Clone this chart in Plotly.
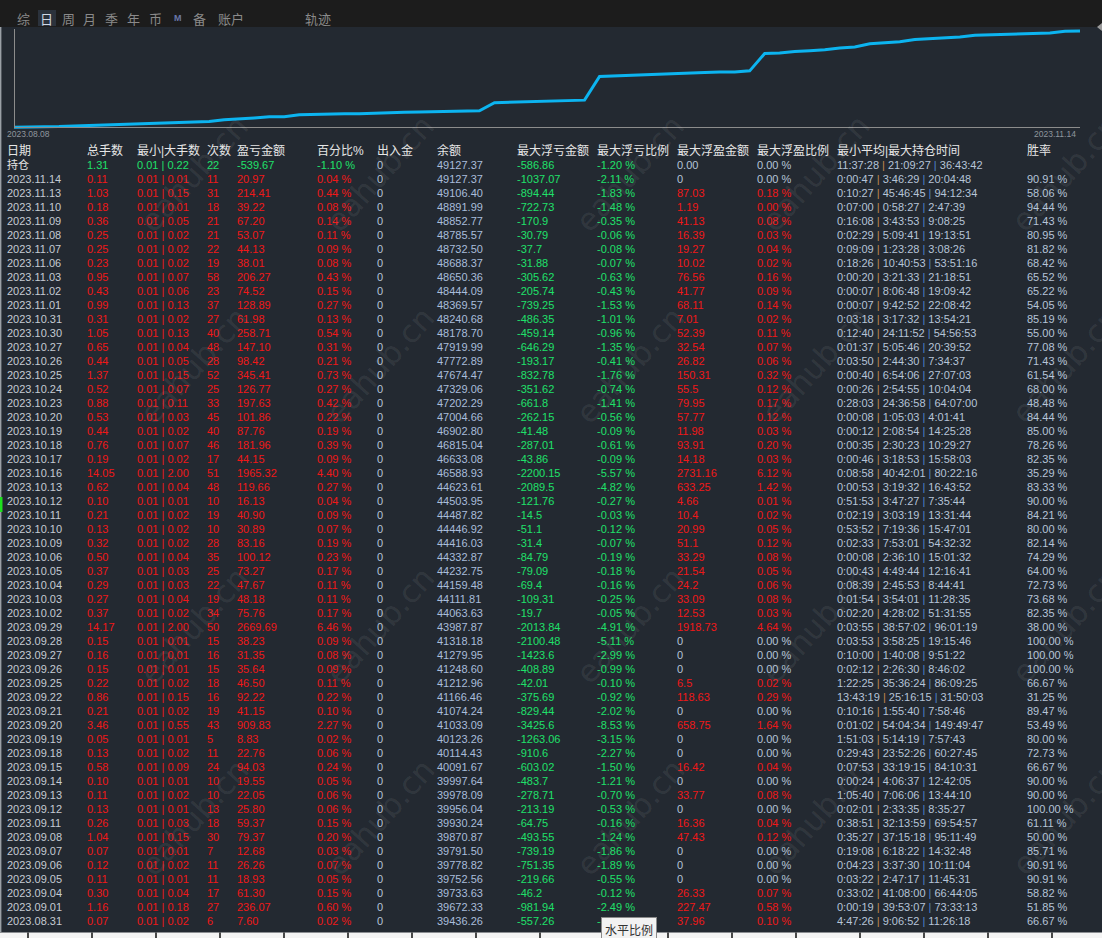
import plotly.graph_objects as go

W, H = 1102, 938

# ---- 日统计表 (2023.11.14 -> 2023.08.31) ----
dates = ["2023.11.14", "2023.11.13", "2023.11.10", "2023.11.09", "2023.11.08", "2023.11.07", "2023.11.06",
         "2023.11.03", "2023.11.02", "2023.11.01", "2023.10.31", "2023.10.30", "2023.10.27", "2023.10.26",
         "2023.10.25", "2023.10.24", "2023.10.23", "2023.10.20", "2023.10.19", "2023.10.18", "2023.10.17",
         "2023.10.16", "2023.10.13", "2023.10.12", "2023.10.11", "2023.10.10", "2023.10.09", "2023.10.06",
         "2023.10.05", "2023.10.04", "2023.10.03", "2023.10.02", "2023.09.29", "2023.09.28", "2023.09.27",
         "2023.09.26", "2023.09.25", "2023.09.22", "2023.09.21", "2023.09.20", "2023.09.19", "2023.09.18",
         "2023.09.15", "2023.09.14", "2023.09.13", "2023.09.12", "2023.09.11", "2023.09.08", "2023.09.07",
         "2023.09.06", "2023.09.05", "2023.09.04", "2023.09.01", "2023.08.31"]
total_lots = [0.11, 1.03, 0.18, 0.36, 0.25, 0.25, 0.23, 0.95, 0.43, 0.99, 0.31, 1.05, 0.65, 0.44, 1.37, 0.52,
              0.88, 0.53, 0.44, 0.76, 0.19, 14.05, 0.62, 0.10, 0.21, 0.13, 0.32, 0.50, 0.37, 0.29, 0.27, 0.37,
              14.17, 0.15, 0.16, 0.15, 0.22, 0.86, 0.21, 3.46, 0.05, 0.13, 0.58, 0.10, 0.11, 0.13, 0.26, 1.04,
              0.07, 0.12, 0.11, 0.30, 1.16, 0.07]
lot_min = [0.01] * len(dates)
lot_max = [0.01, 0.15, 0.01, 0.05, 0.02, 0.02, 0.02, 0.07, 0.06, 0.13, 0.02, 0.13, 0.04, 0.05, 0.15, 0.07,
           0.11, 0.03, 0.02, 0.07, 0.02, 2.00, 0.04, 0.01, 0.02, 0.02, 0.02, 0.04, 0.03, 0.03, 0.04, 0.02,
           2.00, 0.01, 0.01, 0.01, 0.02, 0.15, 0.02, 0.55, 0.01, 0.02, 0.09, 0.01, 0.02, 0.01, 0.03, 0.15,
           0.01, 0.02, 0.01, 0.04, 0.18, 0.02]
trades = [11, 31, 18, 21, 21, 22, 19, 58, 23, 37, 27, 40, 48, 28, 52, 25, 33, 45, 40, 46, 17, 51, 48, 10, 19,
          10, 28, 35, 25, 22, 19, 34, 50, 15, 16, 15, 18, 16, 19, 43, 5, 11, 24, 10, 10, 13, 18, 30, 7, 11,
          11, 17, 27, 6]
pnl = [20.97, 214.41, 39.22, 67.20, 53.07, 44.13, 38.01, 206.27, 74.52, 128.89, 61.98, 258.71, 147.10, 98.42,
       345.41, 126.77, 197.63, 101.86, 87.76, 181.96, 44.15, 1965.32, 119.66, 16.13, 40.90, 30.89, 83.16,
       100.12, 73.27, 47.67, 48.18, 75.76, 2669.69, 38.23, 31.35, 35.64, 46.50, 92.22, 41.15, 909.83, 8.83,
       22.76, 94.03, 19.55, 22.05, 25.80, 59.37, 79.37, 12.68, 26.26, 18.93, 61.30, 236.07, 7.60]
pnl_pct = [0.04, 0.44, 0.08, 0.14, 0.11, 0.09, 0.08, 0.43, 0.15, 0.27, 0.13, 0.54, 0.31, 0.21, 0.73, 0.27,
           0.42, 0.22, 0.19, 0.39, 0.09, 4.40, 0.27, 0.04, 0.09, 0.07, 0.19, 0.23, 0.17, 0.11, 0.11, 0.17,
           6.46, 0.09, 0.08, 0.09, 0.11, 0.22, 0.10, 2.27, 0.02, 0.06, 0.24, 0.05, 0.06, 0.06, 0.15, 0.20,
           0.03, 0.07, 0.05, 0.15, 0.60, 0.02]
cash_flow = [0] * len(dates)
balance = [49127.37, 49106.40, 48891.99, 48852.77, 48785.57, 48732.50, 48688.37, 48650.36, 48444.09, 48369.57,
           48240.68, 48178.70, 47919.99, 47772.89, 47674.47, 47329.06, 47202.29, 47004.66, 46902.80, 46815.04,
           46633.08, 46588.93, 44623.61, 44503.95, 44487.82, 44446.92, 44416.03, 44332.87, 44232.75, 44159.48,
           44111.81, 44063.63, 43987.87, 41318.18, 41279.95, 41248.60, 41212.96, 41166.46, 41074.24, 41033.09,
           40123.26, 40114.43, 40091.67, 39997.64, 39978.09, 39956.04, 39930.24, 39870.87, 39791.50, 39778.82,
           39752.56, 39733.63, 39672.33, 39436.26]
float_loss = [-1037.07, -894.44, -722.73, -170.9, -30.79, -37.7, -31.88, -305.62, -205.74, -739.25, -486.35,
              -459.14, -646.29, -193.17, -832.78, -351.62, -661.8, -262.15, -41.48, -287.01, -43.86, -2200.15,
              -2089.5, -121.76, -14.5, -51.1, -31.4, -84.79, -79.09, -69.4, -109.31, -19.7, -2013.84, -2100.48,
              -1423.6, -408.89, -42.01, -375.69, -829.44, -3425.6, -1263.06, -910.6, -603.02, -483.7, -278.71,
              -213.19, -64.75, -493.55, -739.19, -751.35, -219.66, -46.2, -981.94, -557.26]
float_loss_pct = [-2.11, -1.83, -1.48, -0.35, -0.06, -0.08, -0.07, -0.63, -0.43, -1.53, -1.01, -0.96, -1.35,
                  -0.41, -1.76, -0.74, -1.41, -0.56, -0.09, -0.61, -0.09, -5.57, -4.82, -0.27, -0.03, -0.12,
                  -0.07, -0.19, -0.18, -0.16, -0.25, -0.05, -4.91, -5.11, -2.99, -0.99, -0.10, -0.92, -2.02,
                  -8.53, -3.15, -2.27, -1.50, -1.21, -0.70, -0.53, -0.16, -1.24, -1.86, -1.89, -0.55, -0.12,
                  -2.49, -1.41]
float_profit = [0, 87.03, 1.19, 41.13, 16.39, 19.27, 10.02, 76.56, 41.77, 68.11, 7.01, 52.39, 32.54, 26.82,
                150.31, 55.5, 79.95, 57.77, 11.98, 93.91, 14.18, 2731.16, 633.25, 4.66, 10.4, 20.99, 51.1,
                33.29, 21.54, 24.2, 33.09, 12.53, 1918.73, 0, 0, 0, 6.5, 118.63, 0, 658.75, 0, 0, 16.42, 0,
                33.77, 0, 16.36, 47.43, 0, 0, 0, 26.33, 227.47, 37.96]
float_profit_pct = [0.00, 0.18, 0.00, 0.08, 0.03, 0.04, 0.02, 0.16, 0.09, 0.14, 0.02, 0.11, 0.07, 0.06, 0.32,
                    0.12, 0.17, 0.12, 0.03, 0.20, 0.03, 6.12, 1.42, 0.01, 0.02, 0.05, 0.12, 0.08, 0.05, 0.06,
                    0.08, 0.03, 4.64, 0.00, 0.00, 0.00, 0.02, 0.29, 0.00, 1.64, 0.00, 0.00, 0.04, 0.00, 0.08,
                    0.00, 0.04, 0.12, 0.00, 0.00, 0.00, 0.07, 0.58, 0.10]
hold_min = ["0:00:47", "0:10:27", "0:07:00", "0:16:08", "0:02:29", "0:09:09", "0:18:26", "0:00:20", "0:00:07",
            "0:00:07", "0:03:18", "0:12:40", "0:01:37", "0:03:50", "0:00:40", "0:00:26", "0:28:03", "0:00:08",
            "0:00:12", "0:00:35", "0:00:46", "0:08:58", "0:00:53", "0:51:53", "0:02:19", "0:53:52", "0:02:33",
            "0:00:08", "0:00:43", "0:08:39", "0:01:54", "0:02:20", "0:03:55", "0:03:53", "0:10:00", "0:02:12",
            "1:22:25", "13:43:19", "0:10:16", "0:01:02", "1:51:03", "0:29:43", "0:07:53", "0:00:24", "1:05:40",
            "0:02:01", "0:38:51", "0:35:27", "0:19:08", "0:04:23", "0:03:22", "0:33:02", "0:00:19", "4:47:26"]
hold_avg = ["3:46:29", "45:46:45", "0:58:27", "3:43:53", "5:09:41", "1:23:28", "10:40:53", "3:21:33", "8:06:48",
            "9:42:52", "3:17:32", "24:11:52", "5:05:46", "2:44:30", "6:54:06", "2:54:55", "24:36:58", "1:05:03",
            "2:08:54", "2:30:23", "3:18:53", "40:42:01", "3:19:32", "3:47:27", "3:03:19", "7:19:36", "7:53:01",
            "2:36:10", "4:49:44", "2:45:53", "3:54:01", "4:28:02", "38:57:02", "3:58:25", "1:40:08", "2:26:30",
            "35:36:24", "25:16:15", "1:55:40", "54:04:34", "5:14:19", "23:52:26", "33:19:15", "4:06:37",
            "7:06:06", "2:33:35", "32:13:59", "37:15:18", "6:18:22", "3:37:30", "2:47:17", "41:08:00",
            "39:53:07", "9:06:52"]
hold_max = ["20:04:48", "94:12:34", "2:47:39", "9:08:25", "19:13:51", "3:08:26", "53:51:16", "21:18:51",
            "19:09:42", "22:08:42", "13:54:21", "54:56:53", "20:39:52", "7:34:37", "27:07:03", "10:04:04",
            "64:07:00", "4:01:41", "14:25:28", "10:29:27", "15:58:03", "80:22:16", "16:43:52", "7:35:44",
            "13:31:44", "15:47:01", "54:32:32", "15:01:32", "12:16:41", "8:44:41", "11:28:35", "51:31:55",
            "96:01:19", "19:15:46", "9:51:22", "8:46:02", "86:09:25", "31:50:03", "7:58:46", "149:49:47",
            "7:57:43", "60:27:45", "84:10:31", "12:42:05", "13:44:10", "8:35:27", "69:54:57", "95:11:49",
            "14:32:48", "10:11:04", "11:45:31", "66:44:05", "73:33:13", "11:26:18"]
win_rate = [90.91, 58.06, 94.44, 71.43, 80.95, 81.82, 68.42, 65.52, 65.22, 54.05, 85.19, 55.00, 77.08, 71.43,
            61.54, 68.00, 48.48, 84.44, 85.00, 78.26, 82.35, 35.29, 83.33, 90.00, 84.21, 80.00, 82.14, 74.29,
            64.00, 72.73, 73.68, 82.35, 38.00, 100.00, 100.00, 100.00, 66.67, 31.25, 89.47, 53.49, 80.00, 72.73,
            66.67, 90.00, 90.00, 100.00, 61.11, 50.00, 85.71, 90.91, 90.91, 58.82, 51.85, 66.67]

# 持仓行
open_lots, open_lot_min, open_lot_max, open_trades = 1.31, 0.01, 0.22, 22
open_pnl, open_pct, open_cash, open_balance = -539.67, -1.10, 0, 49127.37
open_float_loss, open_float_loss_pct = -586.86, -1.20
open_float_profit, open_float_profit_pct = 0.00, 0.00
open_hold = ["11:37:28", "21:09:27", "36:43:42"]

headers = ["日期", "总手数", "最小|大手数", "次数", "盈亏金额", "百分比%", "出入金", "余额", "最大浮亏金额",
           "最大浮亏比例", "最大浮盈金额", "最大浮盈比例", "最小平均|最大持仓时间", "胜率"]

# 轨迹曲线: 8月上旬到8.30为曲线上估读的数值
aug_dates = ["起始", "2023.08.08", "2023.08.09", "2023.08.10", "2023.08.11", "2023.08.14", "2023.08.15",
             "2023.08.16", "2023.08.17", "2023.08.18", "2023.08.21", "2023.08.22", "2023.08.23", "2023.08.24",
             "2023.08.25", "2023.08.28", "2023.08.29", "2023.08.30"]
aug_balance = [38250, 38260, 38285, 38330, 38400, 38455, 38510, 38555, 38590, 38625, 38700, 38780, 38825,
               38905, 39110, 39185, 39300, 39428.66]

# ---- 样式 ----
BG = "#232931"
TOPBAR = "#1c1c1c"
HEAD_C = "#e6e6e6"
DATE_C = "#c5cbd3"
RED = "#f01818"
GREEN = "#1fe06a"
LIGHT = "#b6c4d8"
BAL_C = "#a9bddb"
SEP1 = "#c08a4e"
SEP2 = "#4f84cc"
FONT = "Liberation Sans, Arial, Noto Sans CJK SC"
CJK = "Noto Sans CJK SC"


def px(x):
    return x / W


def py(y):
    return 1 - y / H


curve_dates = aug_dates + dates[::-1]
curve_balance = aug_balance + balance[::-1]
n_pts = len(curve_balance)

fig = go.Figure()

# 曲线
x0_px, x1_px = 14, 1080
y_top_px, y_bot_px = 31, 127.3
vmin, vmax = min(curve_balance), max(curve_balance)
sx = (x1_px - x0_px) / (n_pts - 1)
sy = (vmax - vmin) / (y_bot_px - y_top_px)
fig.add_trace(go.Scatter(
    x=list(range(n_pts)), y=curve_balance, text=curve_dates, mode="lines",
    line=dict(color="#0cb4f0", width=3), hoverinfo="text+y", xaxis="x", yaxis="y"))

# 表格 (用文字点绘制, 每列一条)
col_x = [7, 87, 137, 207, 237, 317, 377, 437, 517, 597, 677, 757, 837, 1027]


def sep(c):
    return "<span style='color:%s'>|</span>" % c


def pct(v):
    return "%.2f %%" % v


n = len(dates)
cols = []
cols.append((["持仓"] + dates, [HEAD_C] + [DATE_C] * n))
cols.append((["%.2f" % open_lots] + ["%.2f" % v for v in total_lots], [GREEN] + [RED] * n))
cols.append((["%.2f | %.2f" % (open_lot_min, open_lot_max)] +
             ["%.2f | %.2f" % (a, b) for a, b in zip(lot_min, lot_max)], [GREEN] + [RED] * n))
cols.append(([str(open_trades)] + [str(v) for v in trades], [GREEN] + [RED] * n))
cols.append((["%.2f" % open_pnl] + ["%.2f" % v for v in pnl], [GREEN] + [RED] * n))
cols.append(([pct(open_pct)] + [pct(v) for v in pnl_pct], [GREEN] + [RED] * n))
cols.append(([str(open_cash)] + [str(v) for v in cash_flow], [LIGHT] * (n + 1)))
cols.append((["%.2f" % open_balance] + ["%.2f" % v for v in balance], [BAL_C] * (n + 1)))
cols.append(([str(open_float_loss)] + [str(v) for v in float_loss], [GREEN] * (n + 1)))
cols.append(([pct(open_float_loss_pct)] + [pct(v) for v in float_loss_pct], [GREEN] * (n + 1)))
cols.append((["%.2f" % open_float_profit] + [str(v) for v in float_profit],
             [LIGHT] + [RED if v > 0 else LIGHT for v in float_profit]))
cols.append(([pct(open_float_profit_pct)] + [pct(v) for v in float_profit_pct],
             [LIGHT] + [RED if v > 0 else LIGHT for v in float_profit]))
hold_txt = [" ".join([a, sep(SEP1), b, sep(SEP2), c]) for a, b, c in
            [open_hold] + list(zip(hold_min, hold_avg, hold_max))]
cols.append((hold_txt, [LIGHT] * (n + 1)))
cols.append(([""] + [pct(v) for v in win_rate], [LIGHT] * (n + 1)))

for i, (vals, colors) in enumerate(cols):
    texts = [headers[i]] + vals
    fig.add_trace(go.Scatter(
        x=[col_x[i]] * len(texts), y=list(range(len(texts))), mode="text", text=texts,
        textposition="middle right",
        textfont=dict(color=[HEAD_C] + colors, size=[12] + [11] * len(vals), family=FONT),
        hoverinfo="skip", cliponaxis=False, xaxis="x2", yaxis="y2"))

row0, row_h = 152, 14

shapes = [
    dict(type="rect", xref="paper", yref="paper", x0=0, x1=1, y0=py(27), y1=1, fillcolor=TOPBAR, line_width=0),
    dict(type="rect", xref="paper", yref="paper", x0=px(38), x1=px(56), y0=py(26), y1=py(10),
         fillcolor="#2b323c", line_width=0),
    dict(type="line", xref="paper", yref="paper", x0=px(14), x1=px(1080), y0=py(127.5), y1=py(127.5),
         line=dict(color="#8c8c8c", width=1)),
    dict(type="line", xref="paper", yref="paper", x0=px(14.5), x1=px(14.5), y0=py(127.5), y1=py(29),
         line=dict(color="#8c8c8c", width=1)),
    dict(type="line", xref="paper", yref="paper", x0=px(0.7), x1=px(0.7), y0=py(932), y1=py(27),
         line=dict(color="#9aa0a6", width=1.4)),
    dict(type="rect", xref="paper", yref="paper", x0=0, x1=px(2.5), y0=py(512), y1=py(497),
         fillcolor="#1ee01e", line_width=0),
    dict(type="path", xref="paper", yref="paper",
         path="M %f %f L %f %f L %f %f Z" % (px(1102), py(23), px(1097), py(27), px(1102), py(31)),
         fillcolor="#9a9a9a", line_width=0),
    dict(type="rect", xref="paper", yref="paper", x0=0, x1=1, y0=0, y1=py(932.5),
         fillcolor="#f4f4f4", line_width=0),
]
for k in range(17):
    xx = 28 + 64 * k
    shapes.append(dict(type="line", xref="paper", yref="paper", x0=px(xx), x1=px(xx), y0=0, y1=py(932.5),
                       line=dict(color="#111111", width=1.5)))

annotations = []
# 选项卡
tabs = [("综", 23), ("日", 46), ("周", 68), ("月", 89), ("季", 111.5), ("年", 133.5), ("币", 155.5),
        ("备", 199.5), ("账户", 230.5), ("轨迹", 318)]
for t, cx in tabs:
    annotations.append(dict(xref="paper", yref="paper", x=px(cx), y=py(18), text=t, showarrow=False,
                            xanchor="center", yanchor="middle",
                            font=dict(family=CJK, size=13, color="#d0d8e4" if t == "日" else "#8a8a8a")))
annotations.append(dict(xref="paper", yref="paper", x=px(178), y=py(18), text="<b>M</b>", showarrow=False,
                        xanchor="center", yanchor="middle",
                        font=dict(family=FONT, size=9, color="#6a78a8")))
# 曲线两端日期
annotations.append(dict(xref="paper", yref="paper", x=px(5), y=py(133.5), text="2023.08.08", showarrow=False,
                        xanchor="left", yanchor="middle", font=dict(family=FONT, size=8.5, color="#8f969e")))
annotations.append(dict(xref="paper", yref="paper", x=px(1078), y=py(133.5), text="2023.11.14", showarrow=False,
                        xanchor="right", yanchor="middle", font=dict(family=FONT, size=8.5, color="#8f969e")))
# 水印
for wy in [105, 365, 625, 885]:
    for wx in [130, 380, 630, 880, 1130]:
        annotations.append(dict(xref="paper", yref="paper", x=px(wx), y=py(wy), text="eahub.cn", showarrow=False,
                                textangle=-48, font=dict(family="DejaVu Sans", size=31,
                                                         color="rgba(255,255,255,0.085)")))
# 提示框
annotations.append(dict(xref="paper", yref="paper", x=px(628.5), y=py(929), text="水平比例", showarrow=False,
                        xanchor="center", yanchor="middle", bgcolor="#f2f2f2", bordercolor="#8a8a8a",
                        borderwidth=1, borderpad=3, font=dict(family=CJK, size=12, color="#333333")))

fig.update_layout(
    width=W, height=H, margin=dict(l=0, r=0, t=0, b=0),
    paper_bgcolor=BG, plot_bgcolor="rgba(0,0,0,0)", showlegend=False,
    xaxis=dict(domain=[px(x0_px - 4), px(x1_px + 4)], range=[-4 / sx, n_pts - 1 + 4 / sx],
               visible=False, fixedrange=True),
    yaxis=dict(domain=[py(y_bot_px + 3.7), py(y_top_px - 3)],
               range=[vmin - 3.7 * sy, vmax + 3 * sy], visible=False, fixedrange=True),
    xaxis2=dict(domain=[0, 1], range=[0, W], visible=False, fixedrange=True, anchor="y2"),
    yaxis2=dict(domain=[0, 1], range=[(H - row0) / row_h, -row0 / row_h], visible=False,
                fixedrange=True, anchor="x2"),
    shapes=shapes, annotations=annotations,
)

fig.write_html("out.html", config={"displayModeBar": False},
               post_script="document.body.style.margin='0';document.body.style.overflow='hidden';")
